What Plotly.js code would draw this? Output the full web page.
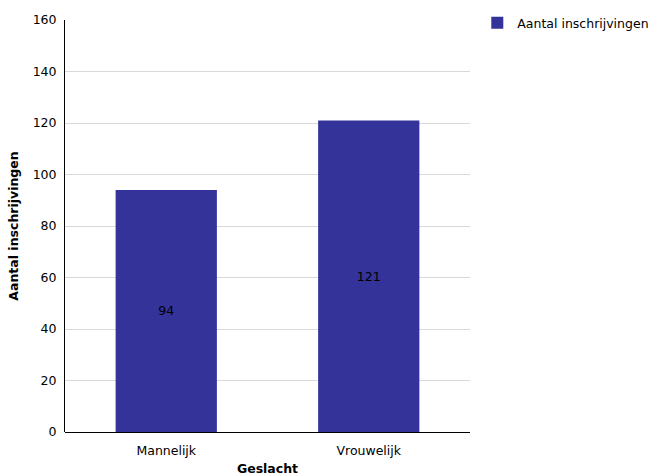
<!DOCTYPE html>
<html>
<head>
<meta charset="utf-8">
<script src="https://cdn.plot.ly/plotly-3.0.1.min.js"></script>
<style>html,body{margin:0;padding:0;background:#fff;}#chart{width:650px;height:476px;}</style>
</head>
<body>
<div id="chart"></div>
<script>
var categories = ["Mannelijk", "Vrouwelijk"];
var values = [94, 121];
var seriesName = "Aantal inschrijvingen";
var yTicks = [0, 20, 40, 60, 80, 100, 120, 140, 160];

var trace = {
  type: "bar",
  x: categories,
  y: values,
  name: seriesName,
  text: values.map(String),
  textposition: "inside",
  insidetextanchor: "middle",
  textangle: 0,
  textfont: {color: "#000000", size: 12.5, family: "DejaVu Sans"},
  marker: {color: "#333399"},
  showlegend: true,
  hoverinfo: "none"
};

var layout = {
  width: 650, height: 476,
  margin: {l: 65, r: 180, t: 20, b: 44, autoexpand: false},
  paper_bgcolor: "#ffffff", plot_bgcolor: "#ffffff",
  font: {family: "DejaVu Sans", size: 12.5, color: "#000000"},
  bargap: 0.5,
  showlegend: true,
  legend: {x: 1.018, xanchor: "left", y: 1.029, yanchor: "top", font: {size: 12.5}, bgcolor: "rgba(0,0,0,0)"},
  xaxis: {
    type: "category",
    showline: false,
    ticks: "outside", ticklen: 7, tickcolor: "rgba(0,0,0,0)",
    tickfont: {size: 12.5},
    title: {text: "Geslacht", font: {size: 12.5, weight: "bold"}, standoff: 7}
  },
  yaxis: {
    range: [0, 160],
    tickvals: yTicks,
    ticktext: yTicks.map(String),
    showline: true, linecolor: "#000000", linewidth: 1,
    showgrid: true, gridcolor: "#d9d9d9", gridwidth: 1,
    zeroline: true, zerolinecolor: "#000000", zerolinewidth: 1,
    ticks: "outside", ticklen: 5, tickcolor: "rgba(0,0,0,0)",
    tickfont: {size: 12.5},
    title: {text: "Aantal inschrijvingen", font: {size: 12.5, weight: "bold"}, standoff: 11}
  }
};

Plotly.newPlot("chart", [trace], layout, {displayModeBar: false, staticPlot: true});
</script>
</body>
</html>
